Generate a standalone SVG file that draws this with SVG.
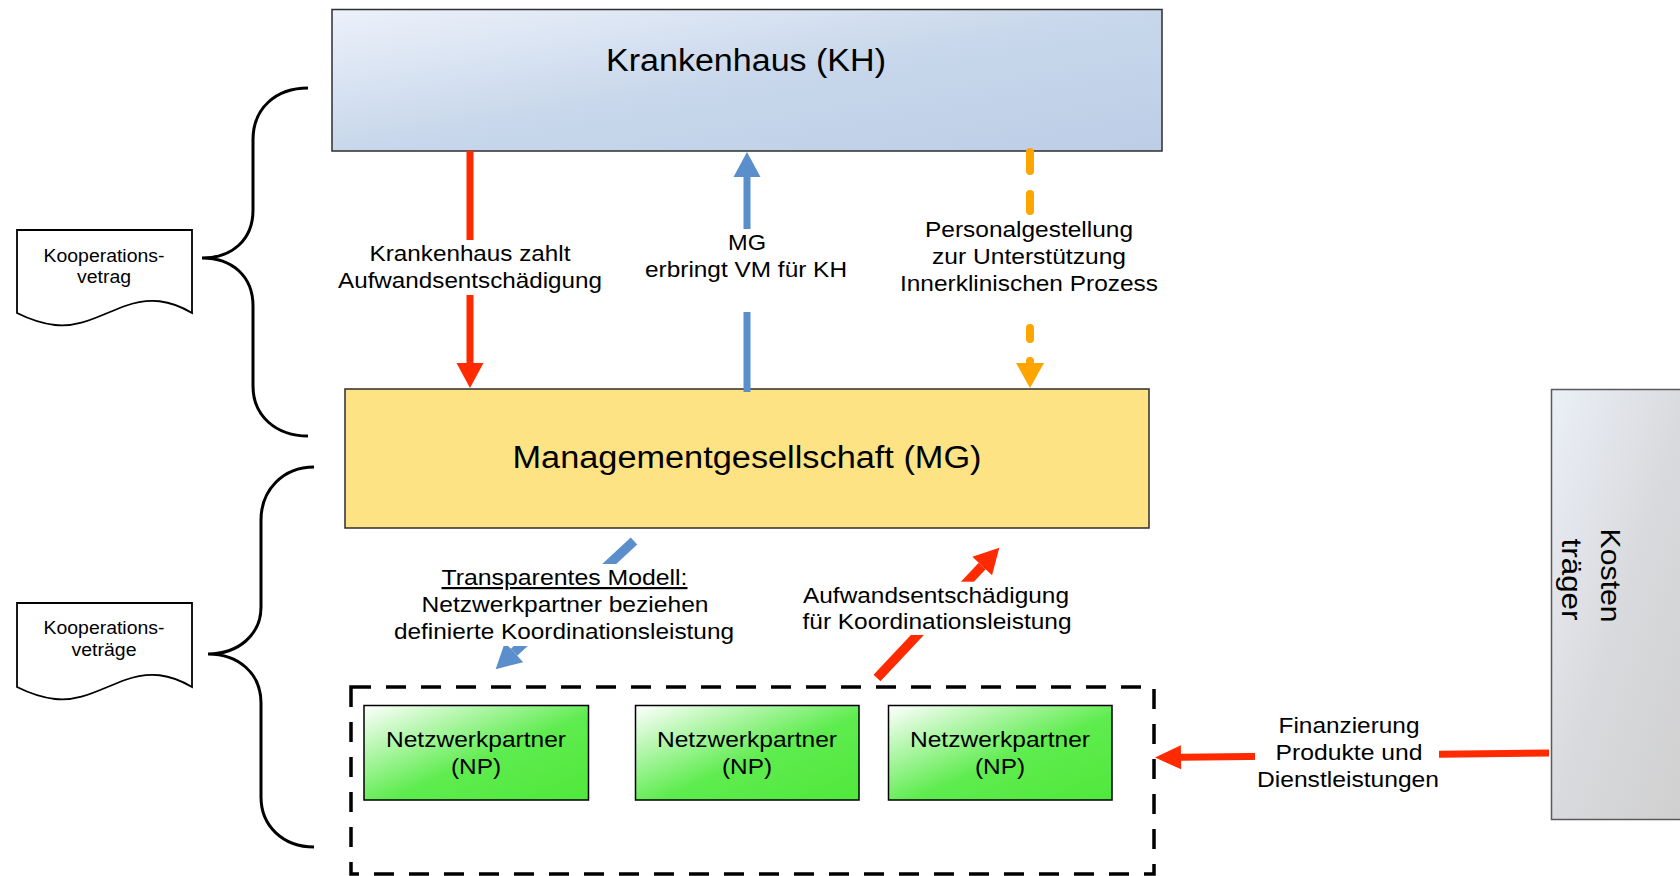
<svg xmlns="http://www.w3.org/2000/svg" width="1680" height="876" viewBox="0 0 1680 876">
<defs>
<style>
text{font-family:"Liberation Sans",Arial,Helvetica,sans-serif;fill:#000;}
.t30{font-size:31px;text-anchor:middle;}
.t21{font-size:22px;text-anchor:middle;}
.t17{font-size:17.5px;text-anchor:middle;}
.box{stroke:#2e2e2e;stroke-width:1.5;}
.doc{fill:#fff;stroke:#000;stroke-width:1.8;}
.brace{fill:none;stroke:#000;stroke-width:3;}
.np{fill:url(#gNP);stroke:#000;stroke-width:1.5;}
.lbg{fill:#fff;stroke:none;}
</style>
<linearGradient id="gKH" x1="0" y1="0" x2="1" y2="1">
<stop offset="0" stop-color="#ecf1fa"/>
<stop offset="0.5" stop-color="#c8d7eb"/>
<stop offset="1" stop-color="#bccde6"/>
</linearGradient>
<linearGradient id="gKT" x1="0" y1="0" x2="1" y2="1">
<stop offset="0" stop-color="#ebeff7"/>
<stop offset="0.5" stop-color="#d9dadd"/>
<stop offset="1" stop-color="#cfcfcf"/>
</linearGradient>
<linearGradient id="gNP" x1="0" y1="0" x2="1" y2="1">
<stop offset="0" stop-color="#ffffff"/>
<stop offset="0.55" stop-color="#5eec4e"/>
<stop offset="1" stop-color="#50e83c"/>
</linearGradient>
<marker id="hRed" markerUnits="userSpaceOnUse" markerWidth="30" markerHeight="30" refX="0" refY="13.5" orient="auto" overflow="visible">
<path d="M0,0 L25,13.5 L0,27 Z" fill="#ff2a00"/>
</marker>
<marker id="hRedS" markerUnits="userSpaceOnUse" markerWidth="30" markerHeight="30" refX="0" refY="12" orient="auto" overflow="visible">
<path d="M0,0 L26,12 L0,24 Z" fill="#ff2a00"/>
</marker>
<marker id="hBlue" markerUnits="userSpaceOnUse" markerWidth="30" markerHeight="30" refX="0" refY="13.5" orient="auto" overflow="visible">
<path d="M0,0 L25,13.5 L0,27 Z" fill="#5b8fcc"/>
</marker>
<marker id="hOrange" markerUnits="userSpaceOnUse" markerWidth="30" markerHeight="30" refX="0" refY="14" orient="auto" overflow="visible">
<path d="M0,0 L25,14 L0,28 Z" fill="#ffa500"/>
</marker>
</defs>

<rect width="1680" height="876" fill="#fff"/>

<g id="brace-top">
<path class="brace" d="M308,88 C276,88 253,108 253,140 V210 C253,240 232,258 202,258 C232,258 253,276 253,306 V386 C253,416 276,436 308,436"/>
</g>
<g id="brace-bottom">
<path class="brace" d="M314,467 C283,467 261,490 261,520 V607 C261,635 238,654 208,654 C238,654 261,673 261,703 V797 C261,826 283,847 314,847"/>
</g>

<g id="doc-kooperationsvertrag">
<path class="doc" d="M17,230 H192 V313 C170,300 150,297 125,306 C100,315 80,328 55,325 C38,323 27,318 17,313 Z"/>
<text class="t17" x="104" y="262" textLength="121" lengthAdjust="spacingAndGlyphs">Kooperations-</text>
<text class="t17" x="104" y="283" textLength="54" lengthAdjust="spacingAndGlyphs">vetrag</text>
</g>

<g id="doc-kooperationsvertraege">
<path class="doc" d="M17,603 H192 V687 C170,674 150,671 125,680 C100,689 80,702 55,699 C38,697 27,692 17,687 Z"/>
<text class="t17" x="104" y="634" textLength="121" lengthAdjust="spacingAndGlyphs">Kooperations-</text>
<text class="t17" x="104" y="656" textLength="65" lengthAdjust="spacingAndGlyphs">veträge</text>
</g>

<g id="krankenhaus">
<rect class="box" x="332" y="9.5" width="830" height="141.5" fill="url(#gKH)"/>
<text class="t30" x="746" y="71" textLength="280" lengthAdjust="spacingAndGlyphs">Krankenhaus (KH)</text>
</g>

<g id="managementgesellschaft">
<rect class="box" x="345" y="389" width="804" height="139" fill="#fde384"/>
<text class="t30" x="747" y="468" textLength="469" lengthAdjust="spacingAndGlyphs">Managementgesellschaft (MG)</text>
</g>

<g id="kostentraeger">
<rect x="1551.5" y="389.5" width="140" height="430" fill="url(#gKT)" stroke="#5a5a5a" stroke-width="1.5"/>
<text transform="translate(1601,579.5) rotate(90)" style="font-size:28px;text-anchor:middle">
<tspan x="0" y="0" textLength="94" lengthAdjust="spacingAndGlyphs">Kosten</tspan>
<tspan x="0" y="39" textLength="82" lengthAdjust="spacingAndGlyphs">träger</tspan>
</text>
</g>

<g id="netzwerk-container">
<rect x="351" y="687" width="803" height="187" fill="none" stroke="#000" stroke-width="3.5" stroke-dasharray="20 15"/>
</g>

<g id="np1">
<rect class="np" x="364" y="705.5" width="224.5" height="94.5"/>
<text class="t21" x="476" y="747" textLength="180" lengthAdjust="spacingAndGlyphs">Netzwerkpartner</text>
<text class="t21" x="476" y="774" textLength="50" lengthAdjust="spacingAndGlyphs">(NP)</text>
</g>
<g id="np2">
<rect class="np" x="635.5" y="705.5" width="223.5" height="94.5"/>
<text class="t21" x="747" y="747" textLength="180" lengthAdjust="spacingAndGlyphs">Netzwerkpartner</text>
<text class="t21" x="747" y="774" textLength="50" lengthAdjust="spacingAndGlyphs">(NP)</text>
</g>
<g id="np3">
<rect class="np" x="888.5" y="705.5" width="223.5" height="94.5"/>
<text class="t21" x="1000" y="747" textLength="180" lengthAdjust="spacingAndGlyphs">Netzwerkpartner</text>
<text class="t21" x="1000" y="774" textLength="50" lengthAdjust="spacingAndGlyphs">(NP)</text>
</g>

<g id="connectors">
<line x1="470" y1="151" x2="470" y2="363" stroke="#ff2a00" stroke-width="7" marker-end="url(#hRed)"/>
<line x1="747" y1="392" x2="747" y2="177" stroke="#5b8fcc" stroke-width="7" marker-end="url(#hBlue)"/>
<g stroke="#ffa500" stroke-width="8" stroke-linecap="round">
<line x1="1030" y1="152" x2="1030" y2="171"/>
<line x1="1030" y1="194" x2="1030" y2="211"/>
<line x1="1030" y1="328" x2="1030" y2="339"/>
<line x1="1030" y1="361" x2="1030" y2="363" marker-end="url(#hOrange)"/>
</g>
<line x1="634" y1="541" x2="514" y2="652.3" stroke="#5b8fcc" stroke-width="9.5" marker-end="url(#hBlue)"/>
<line x1="877" y1="678" x2="982.2" y2="566" stroke="#ff2a00" stroke-width="9.5" marker-end="url(#hRed)"/>
<line x1="1549" y1="753" x2="1181" y2="757.3" stroke="#ff2a00" stroke-width="7" marker-end="url(#hRedS)"/>

<rect class="lbg" x="336" y="240" width="268" height="55"/>
<rect class="lbg" x="640" y="229" width="214" height="83"/>
<rect class="lbg" x="390" y="564" width="350" height="82"/>
<rect class="lbg" x="800" y="581.7" width="274" height="53.3"/>
<rect class="lbg" x="1255" y="712" width="184" height="80"/>

<text class="t21" x="470" y="261" textLength="201" lengthAdjust="spacingAndGlyphs">Krankenhaus zahlt</text>
<text class="t21" x="470" y="288" textLength="264" lengthAdjust="spacingAndGlyphs">Aufwandsentschädigung</text>

<text class="t21" x="747" y="250" textLength="38" lengthAdjust="spacingAndGlyphs">MG</text>
<text class="t21" x="746" y="277" textLength="202" lengthAdjust="spacingAndGlyphs">erbringt VM für KH</text>

<text class="t21" x="1029" y="237" textLength="208" lengthAdjust="spacingAndGlyphs">Personalgestellung</text>
<text class="t21" x="1029" y="264" textLength="194" lengthAdjust="spacingAndGlyphs">zur Unterstützung</text>
<text class="t21" x="1029" y="291" textLength="258" lengthAdjust="spacingAndGlyphs">Innerklinischen Prozess</text>

<text class="t21" x="564.5" y="585" textLength="246" lengthAdjust="spacingAndGlyphs" text-decoration="underline">Transparentes Modell:</text>
<text class="t21" x="565" y="612" textLength="287" lengthAdjust="spacingAndGlyphs">Netzwerkpartner beziehen</text>
<text class="t21" x="564" y="639" textLength="340" lengthAdjust="spacingAndGlyphs">definierte Koordinationsleistung</text>

<text class="t21" x="936" y="603" textLength="266" lengthAdjust="spacingAndGlyphs">Aufwandsentschädigung</text>
<text class="t21" x="937" y="629" textLength="269" lengthAdjust="spacingAndGlyphs">für Koordinationsleistung</text>

<text class="t21" x="1349" y="733" textLength="141" lengthAdjust="spacingAndGlyphs">Finanzierung</text>
<text class="t21" x="1349" y="760" textLength="147" lengthAdjust="spacingAndGlyphs">Produkte und</text>
<text class="t21" x="1348" y="787" textLength="182" lengthAdjust="spacingAndGlyphs">Dienstleistungen</text>
</g>
</svg>
